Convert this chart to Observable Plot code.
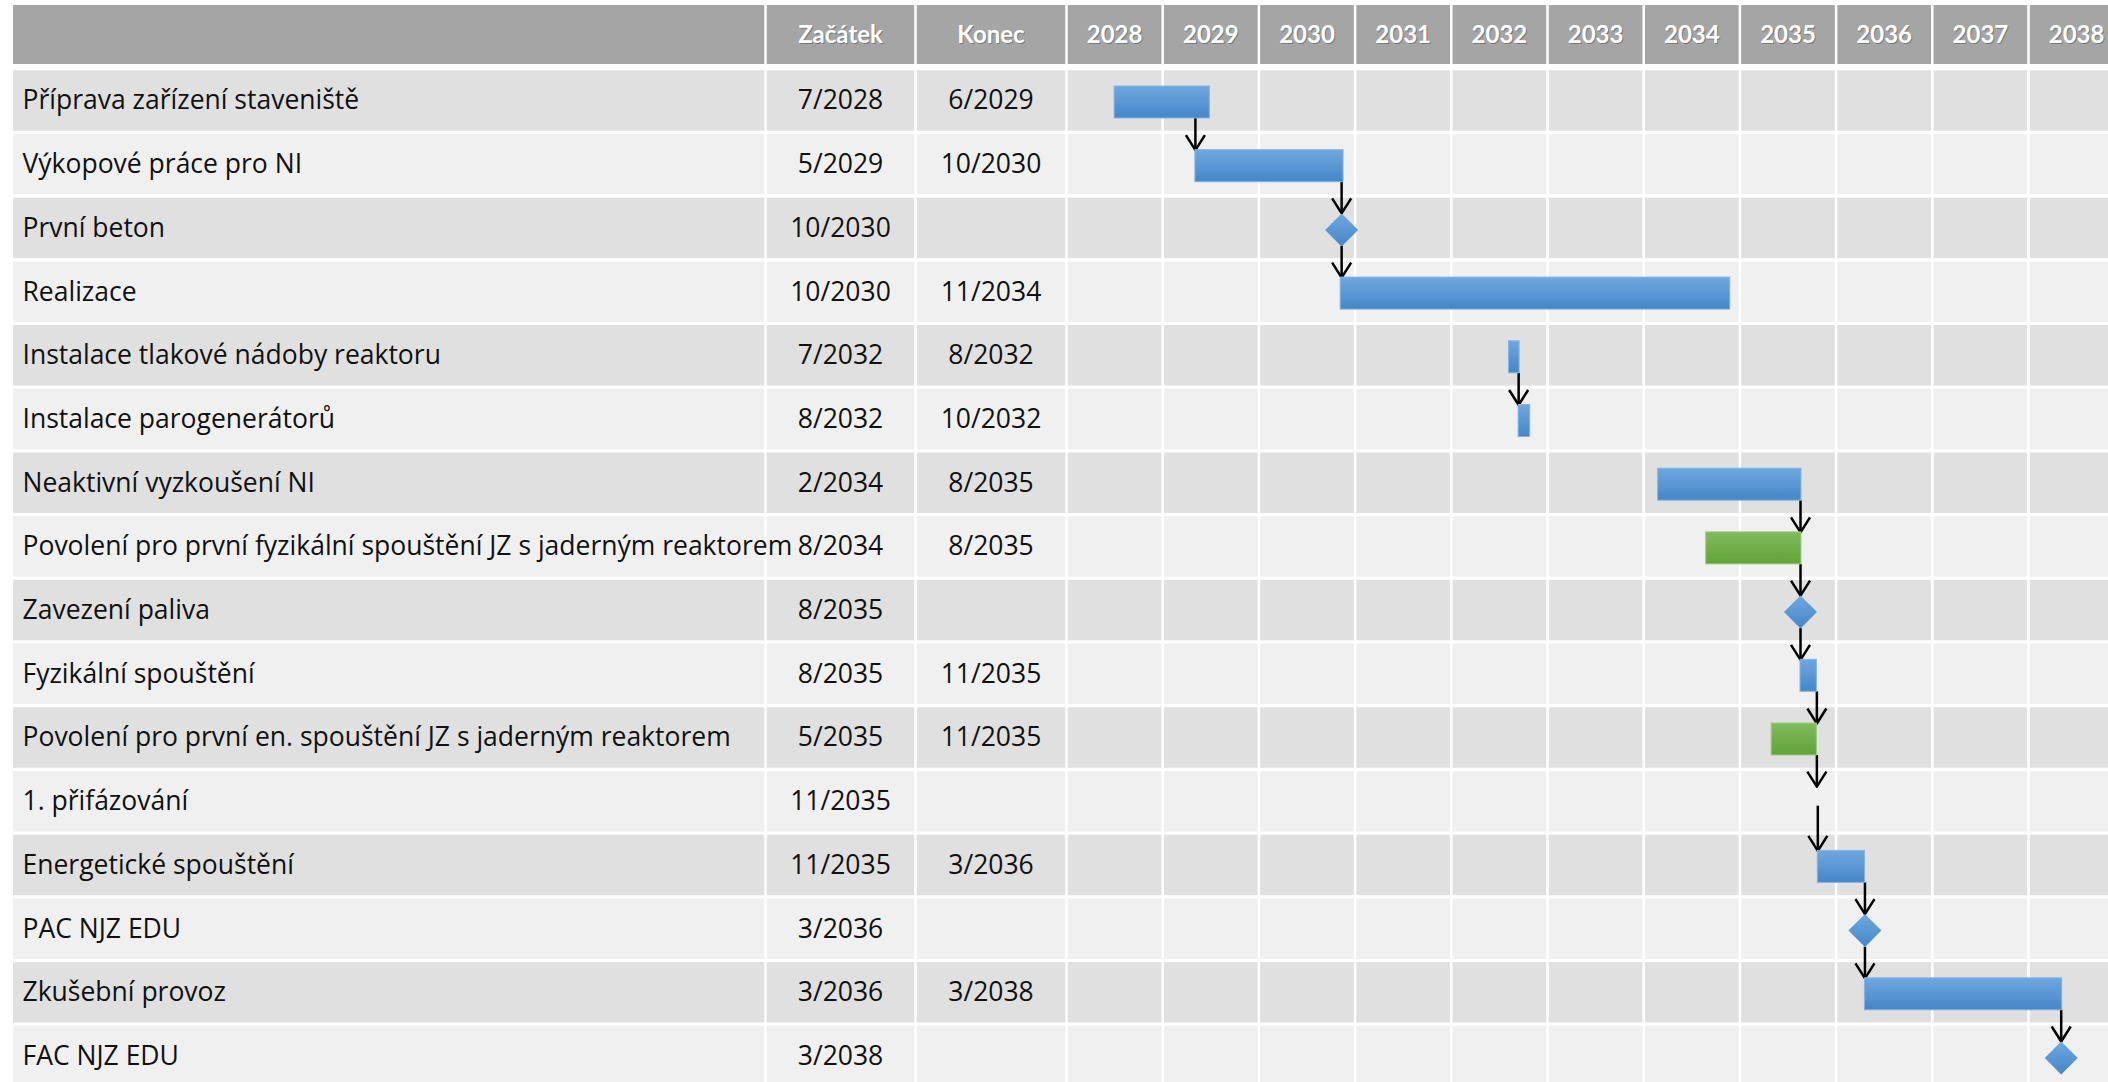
<!DOCTYPE html>
<html>
<head>
<meta charset="utf-8">
<script src="https://cdn.jsdelivr.net/npm/d3@7"></script>
<script src="https://cdn.jsdelivr.net/npm/@observablehq/plot@0.6"></script>
<style>
  html, body { margin: 0; padding: 0; background: #ffffff; overflow: hidden; }
  #chart { display: flex; width: 2108px; height: 1082px; overflow: hidden; }
  #chart svg { flex: none; display: block; max-width: none; }
</style>
</head>
<body>
<div id="chart"></div>
<script>
// ---------------- DATA ----------------
const taskNames = [
  "Příprava zařízení staveniště",
  "Výkopové práce pro NI",
  "První beton",
  "Realizace",
  "Instalace tlakové nádoby reaktoru",
  "Instalace parogenerátorů",
  "Neaktivní vyzkoušení NI",
  "Povolení pro první fyzikální spouštění JZ s jaderným reaktorem",
  "Zavezení paliva",
  "Fyzikální spouštění",
  "Povolení pro první en. spouštění JZ s jaderným reaktorem",
  "1. přifázování",
  "Energetické spouštění",
  "PAC NJZ EDU",
  "Zkušební provoz",
  "FAC NJZ EDU"
];
const startLabels = ["7/2028", "5/2029", "10/2030", "10/2030", "7/2032", "8/2032", "2/2034", "8/2034",
                     "8/2035", "8/2035", "5/2035", "11/2035", "11/2035", "3/2036", "3/2036", "3/2038"];
const endLabels = ["6/2029", "10/2030", "", "11/2034", "8/2032", "10/2032", "8/2035", "8/2035",
                   "", "11/2035", "11/2035", "", "3/2036", "", "3/2038", ""];
// task = blue bar, permit = green bar, milestone = diamond, hidden = milestone without symbol
const kinds = ["task", "task", "milestone", "task", "task", "task", "task", "permit",
               "milestone", "task", "permit", "hidden", "task", "milestone", "task", "milestone"];
// positions on the timeline, in fractional years
const barStart = [2028.50, 2029.34, 2030.86, 2030.85, 2032.60, 2032.70, 2034.15, 2034.65,
                  2035.63, 2035.63, 2035.33, 2035.80, 2035.81, 2036.30, 2036.30, 2038.34];
const barEnd = [2029.49, 2030.88, null, 2034.90, 2032.71, 2032.82, 2035.64, 2035.64,
                null, 2035.80, 2035.80, null, 2036.30, null, 2038.35, null];
const years = [2028, 2029, 2030, 2031, 2032, 2033, 2034, 2035, 2036, 2037, 2038];
const headerLabels = ["", "Začátek", "Konec"];
// dependency arrows (row numbers, 1-based) and the timeline position of the vertical link
const linkFrom = [1, 2, 3, 5, 7, 8, 9, 10, 11, 12, 13, 14, 15];
const linkTo   = [2, 3, 4, 6, 8, 9, 10, 11, 12, 13, 14, 15, 16];
const linkAt   = [2029.34, 2030.86, 2030.86, 2032.70, 2035.63, 2035.63, 2035.63,
                  2035.80, 2035.80, 2035.81, 2036.30, 2036.30, 2038.34];

// ---------------- LAYOUT / STYLE ----------------
const H = 1082;
const ROW_PX = 63.7;                       // pixels per row unit
const px = (v) => v / ROW_PX;              // pixel size -> row units
const Y_DOMAIN = [-36.8 / ROW_PX, (H - 36.8) / ROW_PX];
const ROW_HALF = 0.475;
const HEADER_Y = [-0.499, 0.427];
const HEADER_MID = (HEADER_Y[0] + HEADER_Y[1]) / 2;
const TABLE_W = 1066, TABLE_LEFT = 13;
const COL_EDGES = [0, 752, 902, 1053];
const GANTT_W = 2108 - TABLE_W;
const YEAR_PX = 96.2;
const X_DOMAIN = [years[0], years[0] + GANTT_W / YEAR_PX];
const SHIFT = px(1.5);
const EXT = {
  task: [px(-16), px(16)],
  permit: [px(-16), px(16)],
  milestone: [px(-16.5), px(16.5)],
  hidden: [px(-16.5), px(3)]
};
const COLORS = {
  header: "#a5a5a5", rowDark: "#e0e0e0", rowLight: "#f0f0f0", grid: "#ffffff",
  text: "#111111", headerText: "#ffffff", shadow: "#5c5c5c"
};
const FONT = "Lato, 'Open Sans', sans-serif";
const BODY_FONT = "'Open Sans', Lato, sans-serif";
const BODY_SIZE = 26.5, HEAD_SIZE = 24;

// ---------------- DERIVED TABLES ----------------
const tasks = taskNames.map((name, k) => ({
  row: k + 1, name, start: startLabels[k], end: endLabels[k], kind: kinds[k],
  x1: barStart[k], x2: barEnd[k]
}));
const links = linkFrom.map((f, k) => ({
  x: linkAt[k],
  y1: f + SHIFT + EXT[kinds[f - 1]][1],
  y2: linkTo[k] + SHIFT + EXT[kinds[linkTo[k] - 1]][0]
}));
const rowFill = (d) => (d.row % 2 === 1 ? COLORS.rowDark : COLORS.rowLight);
const header = [{}];

const vHead = {
  draw(ctx) { ctx.moveTo(-9.5, -15); ctx.lineTo(0, 0); ctx.lineTo(9.5, -15); }
};

// ---------------- TABLE (left) ----------------
const colCenter = (i) => (COL_EDGES[i] + COL_EDGES[i + 1]) / 2;
const headerCols = headerLabels.map((label, i) => ({label, x: colCenter(i)}));

const table = Plot.plot({
  width: TABLE_W, height: H,
  marginLeft: TABLE_LEFT, marginRight: 0, marginTop: 0, marginBottom: 0,
  style: {fontFamily: FONT, background: "transparent", overflow: "hidden"},
  x: {domain: [COL_EDGES[0], COL_EDGES[COL_EDGES.length - 1]], axis: null},
  y: {domain: Y_DOMAIN, range: [0, H], axis: null},
  marks: [
    Plot.rect(header, {x1: () => COL_EDGES[0], x2: () => COL_EDGES[3],
      y1: () => HEADER_Y[0], y2: () => HEADER_Y[1], fill: COLORS.header}),
    Plot.rect(tasks, {x1: () => COL_EDGES[0], x2: () => COL_EDGES[3],
      y1: (d) => d.row - ROW_HALF, y2: (d) => d.row + ROW_HALF, fill: rowFill}),
    Plot.ruleX(COL_EDGES.slice(1), {stroke: COLORS.grid, strokeWidth: 2.5}),
    Plot.text(headerCols, {x: "x", y: () => HEADER_MID, text: "label", dx: 1, dy: 1.5,
      fill: COLORS.shadow, fillOpacity: 0.6, fontSize: HEAD_SIZE, fontWeight: "bold"}),
    Plot.text(headerCols, {x: "x", y: () => HEADER_MID, text: "label",
      fill: COLORS.headerText, fontSize: HEAD_SIZE, fontWeight: "bold"}),
    Plot.text(tasks, {x: () => COL_EDGES[0], y: "row", text: "name", dx: 9,
      textAnchor: "start", fill: COLORS.text, fontSize: BODY_SIZE, fontFamily: BODY_FONT}),
    Plot.text(tasks, {x: () => colCenter(1), y: "row", text: "start",
      fill: COLORS.text, fontSize: BODY_SIZE, fontFamily: BODY_FONT}),
    Plot.text(tasks, {x: () => colCenter(2), y: "row", text: "end",
      fill: COLORS.text, fontSize: BODY_SIZE, fontFamily: BODY_FONT})
  ]
});

// ---------------- GANTT (right) ----------------
const bars = tasks.filter((d) => d.kind === "task");
const permits = tasks.filter((d) => d.kind === "permit");
const milestones = tasks.filter((d) => d.kind === "milestone");

const gantt = Plot.plot({
  width: GANTT_W, height: H,
  marginLeft: 0, marginRight: 0, marginTop: 0, marginBottom: 0,
  style: {fontFamily: FONT, background: "transparent", overflow: "hidden"},
  x: {domain: X_DOMAIN, range: [0, GANTT_W], axis: null},
  y: {domain: Y_DOMAIN, range: [0, H], axis: null},
  marks: [
    Plot.rect(header, {x1: () => X_DOMAIN[0], x2: () => X_DOMAIN[1],
      y1: () => HEADER_Y[0], y2: () => HEADER_Y[1], fill: COLORS.header}),
    Plot.rect(tasks, {x1: () => X_DOMAIN[0], x2: () => X_DOMAIN[1],
      y1: (d) => d.row - ROW_HALF, y2: (d) => d.row + ROW_HALF, fill: rowFill}),
    Plot.ruleX(years, {stroke: COLORS.grid, strokeWidth: 2.5}),
    Plot.text(years, {x: (d) => d + 0.5, y: () => HEADER_MID, text: (d) => String(d), dx: 1, dy: 1.5,
      fill: COLORS.shadow, fillOpacity: 0.6, fontSize: HEAD_SIZE, fontWeight: "bold"}),
    Plot.text(years, {x: (d) => d + 0.5, y: () => HEADER_MID, text: (d) => String(d),
      fill: COLORS.headerText, fontSize: HEAD_SIZE, fontWeight: "bold"}),
    Plot.ruleX(links, {x: "x", y1: "y1", y2: "y2", stroke: "#000", strokeWidth: 2.5}),
    Plot.dot(links, {x: "x", y: "y2", symbol: vHead, r: 5, fill: "none",
      stroke: "#000", strokeWidth: 2.5, strokeLinejoin: "round"}),
    Plot.rect(bars, {x1: "x1", x2: "x2",
      y1: (d) => d.row + SHIFT + EXT.task[0], y2: (d) => d.row + SHIFT + EXT.task[1],
      fill: "url(#gBlue)", stroke: "#84b4e3", strokeWidth: 1}),
    Plot.rect(permits, {x1: "x1", x2: "x2",
      y1: (d) => d.row + SHIFT + EXT.permit[0], y2: (d) => d.row + SHIFT + EXT.permit[1],
      fill: "url(#gGreen)", stroke: "#9ccb83", strokeWidth: 1}),
    Plot.dot(milestones, {x: "x1", y: (d) => d.row + SHIFT, symbol: "diamond2", r: 14.86,
      fill: "url(#gBlue)", stroke: "none"})
  ]
});

// gradients for the bars
const defs = d3.select(gantt).insert("defs", ":first-child");
function grad(id, top, bottom) {
  const g = defs.append("linearGradient").attr("id", id)
    .attr("x1", 0).attr("y1", 0).attr("x2", 0).attr("y2", 1);
  g.append("stop").attr("offset", "0%").attr("stop-color", top);
  g.append("stop").attr("offset", "100%").attr("stop-color", bottom);
}
grad("gBlue", "#6fa8df", "#4586c8");
grad("gGreen", "#80bb5d", "#62a338");

const chart = document.getElementById("chart");
chart.appendChild(table);
chart.appendChild(gantt);
</script>
</body>
</html>
